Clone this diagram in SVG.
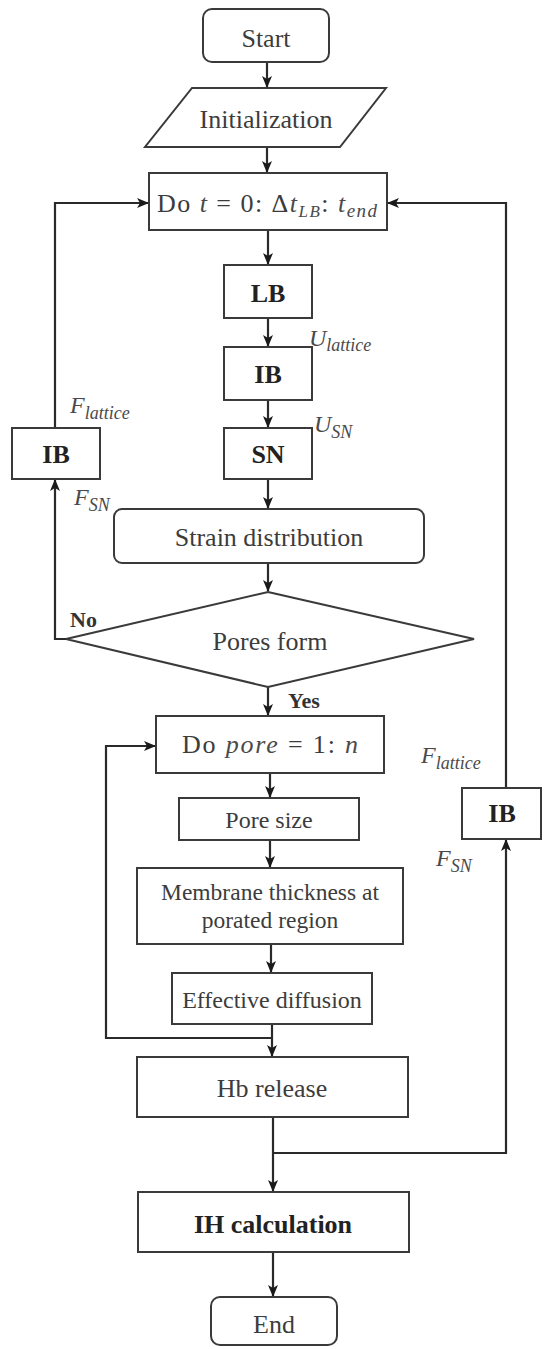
<svg xmlns="http://www.w3.org/2000/svg" width="544" height="1349" viewBox="0 0 544 1349">
<style>
.box{fill:#fff;stroke:#3a3a3a;stroke-width:2}
.t{font-family:"Liberation Serif",serif;font-size:26px;fill:#3c3c3c;text-anchor:middle}
.b{font-family:"Liberation Serif",serif;font-size:26px;font-weight:bold;fill:#222;text-anchor:middle}
.m{font-family:"Liberation Serif",serif;font-style:italic;fill:#4a4a4a}
.lbl{font-family:"Liberation Serif",serif;font-size:22px;font-weight:bold;fill:#333}
.c{fill:none;stroke:#2a2a2a;stroke-width:2.2}
</style>
<defs>
<marker id="ah" viewBox="0 0 12 10" refX="11" refY="5" markerWidth="12" markerHeight="10" markerUnits="userSpaceOnUse" orient="auto">
<path d="M0,0 L12,5 L0,10 L3,5 z" fill="#1a1a1a"/>
</marker>
</defs>
<g id="connectors">
<path class="c" d="M267,62 V87" marker-end="url(#ah)"/>
<path class="c" d="M267,147 V172" marker-end="url(#ah)"/>
<path class="c" d="M268,230 V264" marker-end="url(#ah)"/>
<path class="c" d="M268,318 V346" marker-end="url(#ah)"/>
<path class="c" d="M268,400 V427" marker-end="url(#ah)"/>
<path class="c" d="M268,479 V508" marker-end="url(#ah)"/>
<path class="c" d="M268,563 V591" marker-end="url(#ah)"/>
<path class="c" d="M268,687 V715" marker-end="url(#ah)"/>
<path class="c" d="M270,773 V797" marker-end="url(#ah)"/>
<path class="c" d="M270,840 V867" marker-end="url(#ah)"/>
<path class="c" d="M271,944 V972" marker-end="url(#ah)"/>
<path class="c" d="M272,1024 V1056" marker-end="url(#ah)"/>
<path class="c" d="M272,1038 H106 V746 H155" marker-end="url(#ah)"/>
<path class="c" d="M273,1117 V1191" marker-end="url(#ah)"/>
<path class="c" d="M273,1252 V1296" marker-end="url(#ah)"/>
<path class="c" d="M273,1153 H506 V840" marker-end="url(#ah)"/>
<path class="c" d="M506,788 V203 H388" marker-end="url(#ah)"/>
<path class="c" d="M66,639 H55 V480" marker-end="url(#ah)"/>
<path class="c" d="M55,428 V203 H148" marker-end="url(#ah)"/>
</g>
<g id="start"><rect class="box" x="203" y="9" width="126" height="53" rx="9"/><text class="t" x="266" y="47">Start</text></g>
<g id="init"><polygon class="box" points="192,88 386,88 340,147 145,147"/><text class="t" x="266" y="128">Initialization</text></g>
<g id="do-t"><rect class="box" x="149" y="173" width="238" height="57"/>
<text x="157" y="212" style="font-family:'Liberation Serif',serif;font-size:26px;fill:#3c3c3c" textLength="220" lengthAdjust="spacing">Do <tspan class="m">t</tspan> = 0: Δ<tspan class="m">t</tspan><tspan class="m" font-size="17" dy="5">LB</tspan><tspan dy="-5">: </tspan><tspan class="m">t</tspan><tspan class="m" font-size="19" dy="5">end</tspan></text></g>
<g id="lb"><rect class="box" x="224" y="265" width="88" height="53"/><text class="b" x="268" y="302">LB</text></g>
<g id="ib1"><rect class="box" x="224" y="347" width="88" height="53"/><text class="b" x="268" y="383">IB</text></g>
<g id="sn"><rect class="box" x="224" y="428" width="88" height="51"/><text class="b" x="268" y="463">SN</text></g>
<g id="ib-left"><rect class="box" x="12" y="428" width="88" height="51"/><text class="b" x="56" y="463">IB</text></g>
<g id="strain"><rect class="box" x="114" y="509" width="310" height="54" rx="8"/><text class="t" x="269" y="546">Strain distribution</text></g>
<g id="pores"><polygon class="box" points="268,592 474,639 268,687 66,639"/><text class="t" x="270" y="650">Pores form</text></g>
<g id="do-pore"><rect class="box" x="156" y="716" width="228" height="57"/>
<text x="182" y="753" style="font-family:'Liberation Serif',serif;font-size:26px;fill:#3c3c3c" textLength="176" lengthAdjust="spacing">Do <tspan class="m">pore</tspan> = 1: <tspan class="m">n</tspan></text></g>
<g id="pore-size"><rect class="box" x="179" y="798" width="180" height="42"/><text class="t" x="269" y="828" style="font-size:24px">Pore size</text></g>
<g id="membrane"><rect class="box" x="137" y="868" width="266" height="76"/><text class="t" x="270" y="900" style="font-size:23.5px">Membrane thickness at</text><text class="t" x="270" y="928" style="font-size:23.5px">porated region</text></g>
<g id="effective"><rect class="box" x="172" y="973" width="200" height="51"/><text class="t" x="272" y="1008" style="font-size:24px">Effective diffusion</text></g>
<g id="hb"><rect class="box" x="137" y="1057" width="271" height="60"/><text class="t" x="272" y="1097">Hb release</text></g>
<g id="ih"><rect class="box" x="138" y="1192" width="271" height="60"/><text class="b" x="273" y="1233">IH calculation</text></g>
<g id="end"><rect class="box" x="211" y="1297" width="126" height="48" rx="9"/><text class="t" x="274" y="1333">End</text></g>
<g id="ib-right"><rect class="box" x="462" y="788" width="79" height="51"/><text class="b" x="502" y="822">IB</text></g>
<g id="labels">
<text class="lbl" x="70" y="627">No</text>
<text class="lbl" x="288" y="708">Yes</text>
<text class="m" x="309" y="346" font-size="24">U<tspan font-size="18" dy="5">lattice</tspan></text>
<text class="m" x="314" y="432" font-size="24">U<tspan font-size="18" dy="6">SN</tspan></text>
<text class="m" x="70" y="413" font-size="24">F<tspan font-size="18" dy="6">lattice</tspan></text>
<text class="m" x="74" y="505" font-size="24">F<tspan font-size="18" dy="6">SN</tspan></text>
<text class="m" x="421" y="763" font-size="24">F<tspan font-size="18" dy="6">lattice</tspan></text>
<text class="m" x="436" y="866" font-size="24">F<tspan font-size="18" dy="6">SN</tspan></text>
</g>
</svg>
